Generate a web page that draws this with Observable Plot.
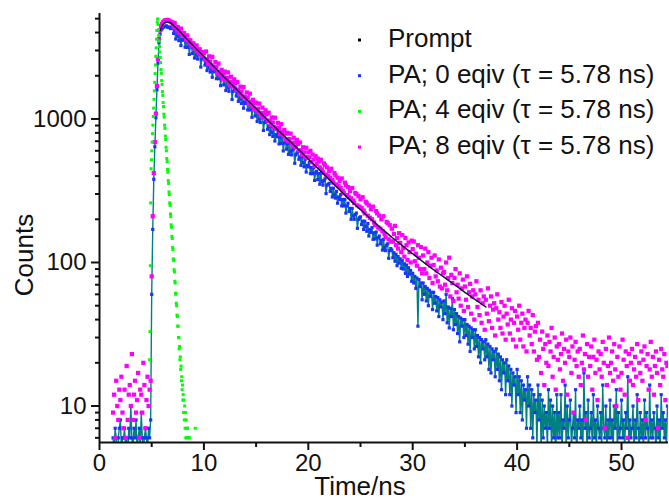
<!DOCTYPE html>
<html><head><meta charset="utf-8">
<script src="https://cdn.jsdelivr.net/npm/d3@7"></script>
<script src="https://cdn.jsdelivr.net/npm/@observablehq/plot@0.6"></script>
<style>
body{margin:0;background:#fff;}
#wrap{width:669px;height:502px;}
</style></head><body><div id="wrap"></div>
<script>
// TCSPC channel grid for the PA 0 / PA 8 decays (ns)
const channelStart = 1.3, channelWidth = 0.1;
const pa0Counts = [
6,5,7,6,4,6,7,
8,5,6,6,7,5,6,4,7,6,
10,6,5,7,6,8,5,6,7,5,
9,6,5,6,7,6,5,7,6,8,
60,170,380,640,1020,1600,2450,3400,3900,4180,
4250,4360,4420,4390,4460,4380,4340,4370,4260,4290,
4480,3945,4130,3605,4110,3770,3512,3945,3245,3595,
3536,3796,3162,3494,3151,3505,2818,3182,3255,2860,
3140,2657,3160,2783,2615,2835,2898,2300,2615,2678,
2700,2373,2489,2174,2478,2268,2121,2384,1953,2163,
2131,2290,1908,2109,1908,2120,1707,1929,1972,1728,
1866,1579,1876,1654,1558,1685,1728,1367,1558,1590,
1648,1445,1509,1327,1509,1380,1284,1445,1188,1316,
1284,1380,1156,1273,1156,1284,1027,1166,1198,1049,
1134,961,1145,1004,945,1021,1048,832,945,967,
967,848,891,778,886,810,756,853,702,778,
751,805,670,745,675,751,599,680,702,616,
670,567,675,594,562,610,621,491,562,578,
594,524,545,475,545,497,464,524,427,475,
464,497,416,459,416,459,373,421,432,378,
416,351,416,367,346,373,383,302,346,351,
356,313,329,286,329,297,281,313,259,286,
275,297,248,275,248,275,221,248,259,227,
238,200,238,211,200,216,221,173,200,205,
208,184,194,170,194,178,165,187,153,170,
162,175,145,161,146,163,132,149,153,135,
143,122,145,127,121,132,135,107,121,125,
122,108,117,102,114,95,110,99,106,91,
103,90,98,84,96,80,92,83,88,74,
84,72,80,66,78,36,76,68,72,55,
72,60,68,54,66,50,64,58,62,47,
62,52,58,46,57,42,55,49,53,40,
54,44,60,38,49,35,48,42,56,34,
47,37,44,32,42,28,41,36,40,30,
40,31,37,27,36,24,35,30,34,25,
34,26,31,22,30,20,29,25,28,21,
29,22,27,18,26,17,25,21,24,16,
25,18,23,15,22,13,21,17,20,12,
21,15,19,12,18,10,17,14,16,9,
18,12,16,9,15,8,14,11,13,7,
16,10,14,7,13,6,12,9,11,5,
14,8,12,5,11,6,10,7,9,5,
13,7,11,5,10,6,9,4,12,6,
9,6,12,5,8,7,14,5,10,6,
8,11,5,7,9,6,13,4,8,7,
10,6,8,5,17,7,9,5,11,6,
7,9,5,12,6,8,5,10,7,6,
9,5,14,7,6,10,5,8,6,11,
6,8,5,10,7,13,5,9,6,7,
11,6,8,5,9,7,16,5,8,6,
7,10,5,8,6,12,7,5,9,6,
8,5,11,6,9,7,5,14,6,8,
6,9,7,5,10,6,8,5,12,7,
9,6,8,5,10
];
const pa8Counts = [
9,12,6,15,10,8,13,
11,16,9,7,13,6,19,8,12,14,
10,23,8,12,15,9,11,17,6,13,
12,9,20,14,7,11,16,10,13,15,
80,210,420,690,1090,1700,2600,3600,4150,4450,
4600,4720,4800,4870,4820,4900,4850,4830,4760,4720,
4690,4410,4660,4330,4150,4370,4160,3970,4260,3890,
3810,3970,3770,3560,3820,3540,3410,3530,3240,3360,
3350,3100,3130,3250,2980,2870,3060,2900,2770,2920,
2880,2600,2950,2590,2420,2730,2510,2320,2710,2320,
2250,2490,2290,2080,2430,2130,2010,2200,1890,2070,
2140,1870,1930,2110,1810,1710,1970,1810,1680,1890,
1770,1600,1810,1590,1490,1680,1550,1430,1670,1430,
1390,1530,1410,1280,1500,1320,1245,1360,1170,1280,
1300,1140,1180,1280,1100,1040,1200,1100,1020,1150,
1080,975,1105,970,910,1025,945,875,1020,870,
850,940,865,785,920,810,765,840,720,790,
800,700,725,790,680,645,740,685,635,715,
670,605,685,600,565,635,585,540,630,540,
585,540,600,500,565,520,470,550,485,530,
505,460,520,445,425,490,475,410,460,400,
435,390,450,375,360,420,405,350,390,340,
370,330,385,315,305,360,345,295,335,285,
315,280,330,270,260,305,300,250,290,245,
275,240,285,230,220,265,258,212,250,205,
235,200,245,190,182,228,220,175,212,172,
200,165,210,158,150,192,188,145,182,140,
172,140,158,180,132,148,125,160,137,118,
155,126,110,148,132,104,138,118,100,142,
124,140,102,115,95,132,108,90,128,84,
112,90,125,84,100,118,78,95,108,72,
96,112,80,88,74,105,68,92,66,84,
86,70,100,64,78,108,58,82,72,54,
78,90,62,70,56,84,50,66,76,46,
68,55,80,49,62,71,44,58,64,40,
60,74,49,55,43,64,38,52,58,34,
55,44,66,39,50,58,35,47,52,31,
48,60,40,45,35,53,32,42,50,29,
44,37,55,32,40,48,29,38,46,26,
42,34,50,29,38,44,26,35,40,24,
38,46,31,35,27,43,24,33,36,21,
38,22,29,17,33,25,14,27,20,31,
19,28,24,35,16,22,30,13,26,21,
27,18,23,32,15,25,20,29,12,24,
22,30,17,26,9,21,28,19,24,16,
25,14,20,31,18,23,8,27,16,22,
19,26,13,22,29,17,21,11,24,18,
23,16,28,20,7,25,14,19,30,17,
20,24,15,27,18,10,22,16,26,13,
17,29,21,12,24,19,6,23,15,20,
25,14,18,22,16,27,11,20,17,24,
15,21,26,8,19,23,13,18,28,16,
22,12,19,24,17,7,21,14,25,18,
16,23,11,20,19
];
// PA 4 eqiv trace, finer channel grid (ns)
const pa4Start = 4.8, pa4Width = 0.035;
const pa4Counts = [
21,33,95,260,450,520,600,690,790,905,
1040,1190,1370,1570,1800,2070,2380,2730,3130,3600,
4130,4740,4980,4560,4170,3820,3490,3200,2930,2680,
2470,2210,2080,1850,1740,1550,1460,1300,1220,1080,
1030,905,860,760,720,635,600,530,505,445,
425,372,355,310,297,260,250,218,209,183,
176,152,147,127,123,106,103,89,86,74,
72,61,60,52,50,43,42,36,36,30,
30,25,26,21,22,18,19,15,16,13,
14,11,12,9,11,8,10,7,9,6,
8,6,7,5,7,6,5,6,4,6,
3,5,4,2,5,3,4,2,3,4,
2,3,1,2,3,7,2
];
// fitted decay curve
const fitTimes = [5.84,6.0,6.2,6.5,6.8,7,8,9,10,11,12,13,14,15,16,17,18,19,20,21,22,23,24,25,26,27,28,29,30,31,32,33,34,35,36,37];
const fitCounts = [4140,4450,4650,4730,4680,4550,3850,3220,2720,2300,1940,1640,1390,1180,1000,850,725,620,525,446,378,321,272,233,200,173,150,131,115,101,89,79,70,62,55,49];

const legendLabels = ["Prompt", "PA; 0 eqiv (\u03c4 = 5.78 ns)", "PA; 4 eqiv (\u03c4 = 5.78 ns)", "PA; 8 eqiv (\u03c4 = 5.78 ns)"];
const xMajorTicks = [0,10,20,30,40,50];
const xMinorTicks = [5,15,25,35,45];
const yMajorTicks = [10,100,1000];
const yMinorTicks = [6,7,8,9,20,30,40,50,60,70,80,90,200,300,400,500,600,700,800,900,2000,3000,4000,5000];
const xTitle = "Time/ns", yTitle = "Counts";

const pa0 = pa0Counts.map((c, i) => ({t: channelStart + i * channelWidth, c}));
const pa8 = pa8Counts.map((c, i) => ({t: channelStart + i * channelWidth, c}));
const pa4 = pa4Counts.map((c, i) => ({t: pa4Start + i * pa4Width, c}));
const fit = fitTimes.map((t, i) => ({t, c: fitCounts[i]}));

const FONT = '"Liberation Sans", Arial, sans-serif';
const yLo = 5.57, yHi = 5430;
const chart = Plot.plot({
  width: 669, height: 502,
  marginLeft: 99, marginRight: 1, marginTop: 13, marginBottom: 60,
  style: {fontFamily: FONT, fontSize: "24px", color: "#111", background: "white"},
  x: {domain: [0, 54.5], label: null},
  y: {type: "log", domain: [yLo, yHi], label: null},
  marks: [
    Plot.line(pa0, {x: "t", y: "c", stroke: "#008080", strokeWidth: 1.4, clip: true}),
    Plot.dot(pa0, {x: "t", y: "c", symbol: "square", r: 1.8, fill: "#1a33ff", stroke: null, clip: true}),
    Plot.dot(pa8, {x: "t", y: "c", symbol: "square", r: 2.4, fill: "#ff00ff", stroke: null, clip: true}),
    Plot.dot(pa4, {x: "t", y: "c", symbol: "square", r: 1.7, fill: "#00ff00", stroke: null, clip: true}),
    Plot.line(fit, {x: "t", y: "c", stroke: "#14143c", strokeWidth: 1.5, curve: "monotone-x"}),
    Plot.axisX({ticks: xMajorTicks, tickSize: 8, tickPadding: 3, strokeWidth: 2, fontSize: 24, label: null, tickFormat: d => String(d)}),
    Plot.axisX({ticks: xMinorTicks, tickSize: 5, strokeWidth: 2, label: null, tickFormat: () => ""}),
    Plot.axisY({ticks: yMajorTicks, tickSize: 8, tickPadding: 5, strokeWidth: 2, fontSize: 24, label: null, tickFormat: d => String(d)}),
    Plot.axisY({ticks: yMinorTicks, tickSize: 4, strokeWidth: 2, label: null, tickFormat: () => ""}),
    Plot.ruleX([0], {strokeWidth: 2, y1: yLo, y2: yHi}),
    Plot.ruleY([yLo], {strokeWidth: 2})
  ]
});
document.getElementById("wrap").appendChild(chart);

const svg = d3.select(chart);
svg.append("text").attr("x", 360).attr("y", 495).attr("text-anchor", "middle")
  .attr("font-family", FONT).attr("font-size", 26).attr("fill", "#111").text(xTitle);
svg.append("text").attr("transform", "translate(33,255) rotate(-90)").attr("text-anchor", "middle")
  .attr("font-family", FONT).attr("font-size", 26).attr("fill", "#111").text(yTitle);
const legendColors = ["#000000", "#1a33ff", "#00ff00", "#ff00ff"];
const lg = svg.append("g").attr("text-anchor", "start");
legendLabels.forEach((lab, i) => {
  const base = 47 + i * 35.7;
  lg.append("rect").attr("x", 358).attr("y", base - 8.5).attr("width", 3).attr("height", 3).attr("fill", legendColors[i]);
  lg.append("text").attr("x", 388).attr("y", base).attr("text-anchor", "start")
    .attr("font-family", FONT).attr("font-size", 26).attr("fill", "#111").text(lab);
});
</script></body></html>
